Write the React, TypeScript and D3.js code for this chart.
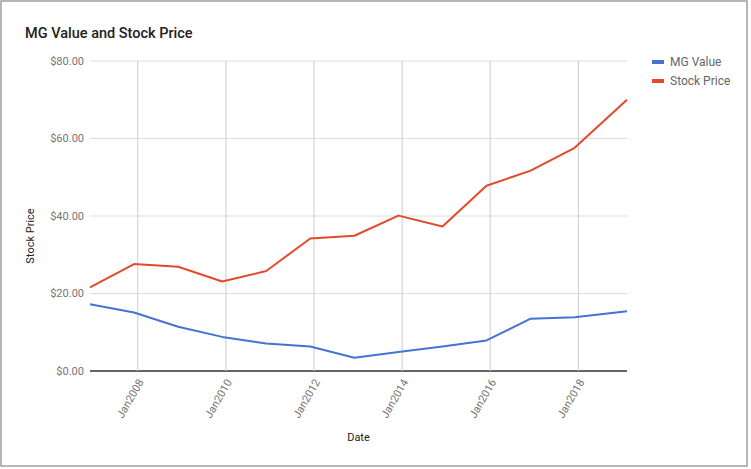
import React from 'react';
import * as d3 from 'd3';

const dates = [
  '2006-12-01', '2007-12-01', '2008-12-01', '2009-12-01', '2010-12-01', '2011-12-01',
  '2012-12-01', '2013-12-01', '2014-12-01', '2015-12-01', '2016-12-01', '2017-12-01', '2019-02-08',
];
const mgValue = [17.2, 15.1, 11.4, 8.8, 7.1, 6.3, 3.4, 4.9, 6.3, 7.9, 13.5, 13.9, 15.4];
const stockPrice = [21.6, 27.6, 26.9, 23.1, 25.8, 34.2, 34.9, 40.1, 37.3, 47.8, 51.7, 57.6, 70.0];
const yTicks = [0, 20, 40, 60, 80];
const xTickYears = [2008, 2010, 2012, 2014, 2016, 2018];
const seriesNames = ['MG Value', 'Stock Price'];
const seriesColors = ['#4473d4', '#e24a2b'];

const W = 751;
const H = 469;
const margin = { top: 61, right: 124, bottom: 98, left: 90 };

export default function App() {
  const parse = d3.timeParse('%Y-%m-%d');
  const xs = dates.map((d) => parse(d) as Date);
  const x = d3.scaleTime()
    .domain(d3.extent(xs) as [Date, Date])
    .range([margin.left, W - margin.right]);
  const y = d3.scaleLinear().domain([0, 80]).range([H - margin.bottom, margin.top]);

  const line = d3.line<number>()
    .x((_, i) => x(xs[i]))
    .y((d) => y(d));

  const series = [mgValue, stockPrice];
  const font = 'Roboto, Arial, sans-serif';
  const x0 = margin.left;
  const x1 = W - margin.right;

  return (
    <>
      <style>{'body{margin:0}'}</style>
      <svg width={W} height={H} style={{ display: 'block', fontFamily: font }}>
        <rect x={0} y={0} width={W} height={H} fill="#fff" />
        <rect x={1} y={1} width={746} height={465} fill="none" stroke="#9e9e9e" strokeWidth={1.5} />

        <text x={25} y={38} fontSize={14.5} fontWeight={500} fill="#222">MG Value and Stock Price</text>

        {/* horizontal grid */}
        {yTicks.map((t) => (
          <g key={t}>
            <line x1={x0} x2={x1} y1={y(t)} y2={y(t)}
              stroke={t === 0 ? '#333' : '#ddd'} strokeWidth={t === 0 ? 1.3 : 1} />
            <text x={84} y={y(t)} dy="0.35em" textAnchor="end" fontSize={11} fill="#757575">
              {d3.format('$.2f')(t)}
            </text>
          </g>
        ))}

        {/* vertical grid + rotated labels */}
        {xTickYears.map((yr) => {
          const xp = x(new Date(yr, 0, 1));
          return (
            <g key={yr}>
              <line x1={xp} x2={xp} y1={margin.top} y2={y(0)} stroke="#ccc" strokeWidth={1} />
              <text transform={`translate(${xp + 3},${y(0) + 9}) rotate(-60)`} textAnchor="end"
                dy="0.35em" fontSize={11} fill="#757575">{`Jan${yr}`}</text>
            </g>
          );
        })}

        {series.map((s, i) => (
          <path key={i} d={line(s) || ''} fill="none" stroke={seriesColors[i]} strokeWidth={2}
            strokeLinejoin="round" />
        ))}

        <text transform="translate(34,236) rotate(-90)" textAnchor="middle" fontSize={11} fill="#222">Stock Price</text>
        <text x={(x0 + x1) / 2} y={441} textAnchor="middle" fontSize={11} fill="#222">Date</text>

        {seriesNames.map((n, i) => (
          <g key={n} transform={`translate(652,${62 + i * 19})`}>
            <rect x={0} y={-2} width={12} height={4} fill={seriesColors[i]} />
            <text x={18} y={0} dy="0.35em" fontSize={12} fill="#666">{n}</text>
          </g>
        ))}
      </svg>
    </>
  );
}
